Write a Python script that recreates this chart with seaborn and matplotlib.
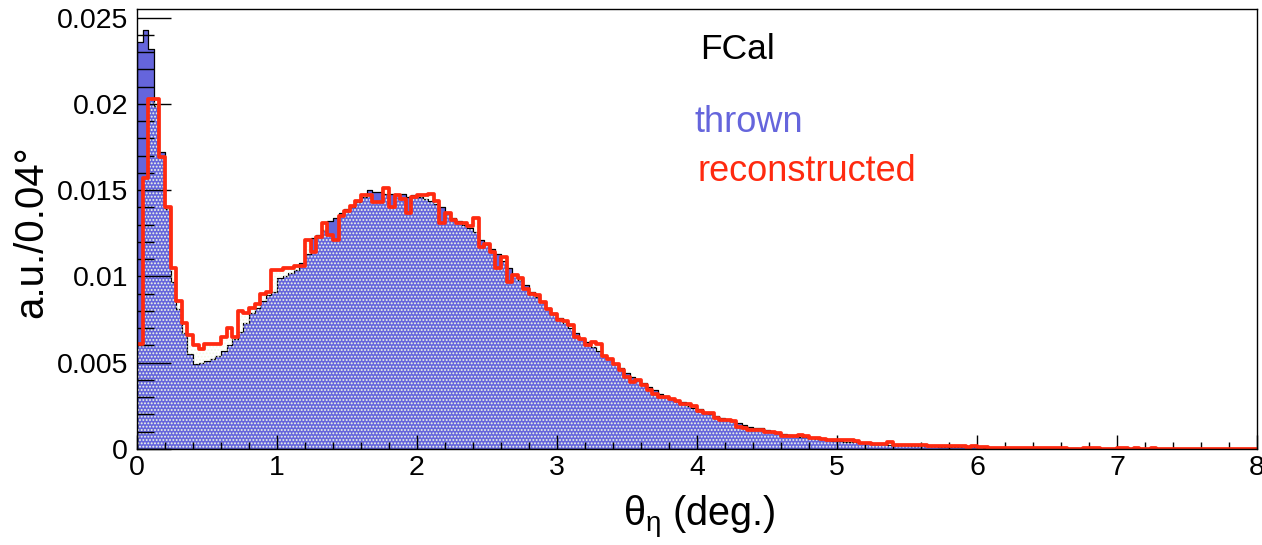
import numpy as np
import pandas as pd
import matplotlib
matplotlib.use("Agg")
import matplotlib.pyplot as plt
import seaborn as sns
from matplotlib.ticker import MultipleLocator, FixedLocator, FuncFormatter

# ---------------- data (a.u. per 0.04 deg bin, 0..8 deg) ----------------
bin_width = 0.04

thrown = [
    0.0236, 0.0243, 0.0232, 0.0199, 0.0172, 0.0139, 0.0097, 0.0081, 0.0067, 0.0055,
    0.0049, 0.0050, 0.0051, 0.0052, 0.0054, 0.0057, 0.0060, 0.0064, 0.0068, 0.0073,
    0.0079, 0.0082, 0.0086, 0.0089, 0.0091, 0.0099, 0.0100, 0.0102, 0.0104, 0.0108,
    0.0113, 0.0122, 0.0124, 0.0127, 0.0132, 0.0134, 0.0137, 0.0139, 0.0140, 0.0143,
    0.0146, 0.0150, 0.0149, 0.0149, 0.0148, 0.0148, 0.0147, 0.0148, 0.0146, 0.0147,
    0.0146, 0.0145, 0.0144, 0.0142, 0.0140, 0.0137, 0.0134, 0.0132, 0.0130, 0.0128,
    0.0126, 0.0121, 0.0119, 0.0116, 0.0113, 0.0109, 0.0105, 0.0101, 0.0098, 0.0095,
    0.0091, 0.0088, 0.0085, 0.0082, 0.0079, 0.0076, 0.0073, 0.0070, 0.0067, 0.0064,
    0.0062, 0.0059, 0.0057, 0.0054, 0.0052, 0.0049, 0.0047, 0.0044, 0.0042, 0.0040,
    0.0038, 0.0036, 0.0034, 0.0032, 0.0031, 0.0029, 0.0028, 0.0027, 0.0025, 0.0024,
    0.0023, 0.0021, 0.0020, 0.0019, 0.0018, 0.0017, 0.0016, 0.0015, 0.0014, 0.0013,
    0.0012, 0.0012, 0.0011, 0.0010, 0.00095, 0.00088, 0.00083, 0.00078, 0.00072, 0.00068,
    0.00064, 0.00060, 0.00056, 0.00052, 0.00049, 0.00046, 0.00043, 0.00040, 0.00038, 0.00035,
    0.00033, 0.00031, 0.00029, 0.00027, 0.00025, 0.00024, 0.00022, 0.00021, 0.00019, 0.00018,
    0.00017, 0.00016, 0.00015, 0.00014, 0.00013, 0.00012, 0.00011, 0.00011, 0.00010, 0.00009,
    0.00009, 0.00008, 0.00008, 0.00007, 0.00007, 0.00006, 0.00006, 0.00006, 0.00005, 0.00005,
    0.00005, 0.00004, 0.00004, 0.00004, 0.00004, 0.00003, 0.00003, 0.00003, 0.00002, 0.00003,
    0.00002, 0.00002, 0.00002, 0.00002, 0.00001, 0.00002, 0.00001, 0.00001, 0.00001, 0.00001,
    0.00001, 0.0, 0.00001, 0.0, 0.0, 0.00001, 0.0, 0.0, 0.0, 0.0,
    0.0, 0.0, 0.0, 0.0, 0.0, 0.0, 0.0, 0.0, 0.0, 0.0,
]

reconstructed = [
    0.0061, 0.0157, 0.0203, 0.0203, 0.0169, 0.0140, 0.0105, 0.0086, 0.0073, 0.0066,
    0.0060, 0.0058, 0.0061, 0.0061, 0.0061, 0.0065, 0.0070, 0.0065, 0.0080, 0.0079,
    0.0082, 0.0084, 0.0090, 0.0091, 0.0104, 0.0104, 0.0105, 0.0105, 0.0106, 0.0106,
    0.0121, 0.0114, 0.0123, 0.0131, 0.0124, 0.0121, 0.0135, 0.0138, 0.0141, 0.0144,
    0.0147, 0.0147, 0.0143, 0.0143, 0.0151, 0.0140, 0.0147, 0.0145, 0.0137, 0.0146,
    0.0147, 0.0147, 0.0148, 0.0144, 0.0131, 0.0137, 0.0133, 0.0131, 0.0131, 0.0129,
    0.0134, 0.0117, 0.0119, 0.0114, 0.0105, 0.0111, 0.0097, 0.0101, 0.0099, 0.0093,
    0.0090, 0.0089, 0.0085, 0.0081, 0.0078, 0.0075, 0.0074, 0.0072, 0.0065, 0.0064,
    0.0060, 0.0062, 0.0061, 0.0054, 0.0052, 0.0049, 0.0046, 0.0042, 0.0039, 0.0040,
    0.0037, 0.0034, 0.0032, 0.0030, 0.0030, 0.0029, 0.0028, 0.0026, 0.0026, 0.0025,
    0.0022, 0.0021, 0.0021, 0.0018, 0.0017, 0.0017, 0.0016, 0.0013, 0.0012, 0.0011,
    0.0011, 0.0011, 0.0010, 0.0010, 0.0009, 0.00075, 0.00078, 0.00076, 0.00080, 0.00078,
    0.00062, 0.00062, 0.00058, 0.00052, 0.00054, 0.00052, 0.00052, 0.00050, 0.00048, 0.00037,
    0.00036, 0.00029, 0.00030, 0.00028, 0.00041, 0.00023, 0.00024, 0.00022, 0.00023, 0.00021,
    0.00022, 0.00020, 0.00019, 0.00017, 0.00016, 0.00018, 0.00015, 0.00017, 0.00014, 0.00016,
    0.00013, 0.00012, 0.00008, 0.00006, 0.00007, 0.00005, 0.00006, 0.00004, 0.00005, 0.00006,
    0.00003, 0.00004, 0.00005, 0.00003, 0.00004, 0.00003, 0.0, 0.0, 0.0, 0.00003,
    0.00004, 0.00003, 0.0, 0.0, 0.0, 0.00004, 0.00003, 0.0, 0.00003, 0.0,
    0.00002, 0.00004, 0.0, 0.0, 0.0, 0.0, 0.0, 0.0, 0.0, 0.0,
    0.0, 0.0, 0.0, 0.0, 0.0, 0.0, 0.0, 0.0, 0.0, 0.0,
]

x_tick_values = [0, 1, 2, 3, 4, 5, 6, 7, 8]
y_tick_values = [0, 0.005, 0.01, 0.015, 0.02, 0.025]

title_text = "FCal"
thrown_label = "thrown"
reco_label = "reconstructed"
x_label = r"$\theta_{\eta}$ (deg.)"
y_label = "a.u./0.04°"

# ---------------- style ----------------
sns.set_theme(style="white")
plt.rcParams["font.family"] = ["Liberation Sans", "DejaVu Sans"]
plt.rcParams["mathtext.fontset"] = "custom"
plt.rcParams["mathtext.rm"] = "Liberation Sans"
plt.rcParams["mathtext.it"] = "Liberation Sans"
plt.rcParams["mathtext.bf"] = "Liberation Sans:bold"
plt.rcParams["hatch.linewidth"] = 0.9
plt.rcParams["text.color"] = "black"
plt.rcParams["axes.labelcolor"] = "black"
plt.rcParams["xtick.color"] = "black"
plt.rcParams["ytick.color"] = "black"

blue = "#6565dc"
red = "#ff2a10"
pale = "#f2fbe6"

n = len(thrown)
edges = [round(i * bin_width, 6) for i in range(n + 1)]
centers = [e + bin_width / 2 for e in edges[:-1]]
df = pd.DataFrame({"theta": centers, "thrown": thrown, "reco": reconstructed})

W, H = 1262, 545
fig = plt.figure(figsize=(W / 100, H / 100), dpi=100)
ax = fig.add_axes([137 / W, (H - 449) / H, 1120 / W, 440 / H])

# thrown: solid blue fill with black outline
sns.histplot(data=df, x="theta", weights="thrown", bins=edges, element="step",
             fill=True, color=blue, alpha=1.0, edgecolor="black", linewidth=0.9,
             ax=ax, zorder=1)
# reconstructed: dotted pattern fill
n_before = len(ax.collections)
sns.histplot(data=df, x="theta", weights="reco", bins=edges, element="step",
             fill=True, color=pale, alpha=1.0, edgecolor=pale, linewidth=0.0,
             ax=ax, zorder=1.2)
for coll in ax.collections[n_before:]:
    coll.set_facecolor("none")
    coll.set_edgecolor(pale)
    coll.set_linewidth(0.0)
    coll.set_hatch(".....")
# reconstructed: red outline
sns.histplot(data=df, x="theta", weights="reco", bins=edges, element="step",
             fill=False, color=red, linewidth=2.7, ax=ax, zorder=3)

ax.set_xlim(0, 8)
ax.set_ylim(0, 0.0255)

ax.xaxis.set_major_locator(FixedLocator(x_tick_values))
ax.xaxis.set_minor_locator(MultipleLocator(0.2))
ax.yaxis.set_major_locator(FixedLocator(y_tick_values))
ax.yaxis.set_minor_locator(MultipleLocator(0.001))
ax.xaxis.set_major_formatter(FuncFormatter(lambda v, p: f"{v:g}"))
ax.yaxis.set_major_formatter(FuncFormatter(lambda v, p: f"{v:g}"))

ax.set_axisbelow(False)
ax.tick_params(axis="both", which="both", direction="in", colors="black",
               left=True, bottom=True, top=False, right=False,
               width=1.0, labelsize=20.5)
ax.tick_params(axis="y", which="major", length=24.5, pad=6.5)
ax.tick_params(axis="y", which="minor", length=12)
ax.tick_params(axis="x", which="major", length=10, pad=4.5)
ax.tick_params(axis="x", which="minor", length=5)

for s in ax.spines.values():
    s.set_color("black")
    s.set_linewidth(1.0)
    s.set_visible(True)
    s.set_zorder(4)

ax.set_xlabel(x_label, fontsize=28.5, color="black")
ax.xaxis.label.set_ha("center")
ax.xaxis.label.set_va("center")
ax.xaxis.set_label_coords(0.502, -0.155)

ax.set_ylabel(y_label, fontsize=29, color="black")
ax.yaxis.label.set_ha("center")
ax.yaxis.label.set_va("center")
ax.yaxis.set_label_coords(-0.094, 0.494)

ax.text(0.5027, 0.907, title_text, transform=ax.transAxes, fontsize=25.5,
        color="black", ha="left", va="center")
ax.text(0.498, 0.741, thrown_label, transform=ax.transAxes, fontsize=26,
        color=blue, ha="left", va="center")
ax.text(0.500, 0.630, reco_label, transform=ax.transAxes, fontsize=26,
        color=red, ha="left", va="center")

ax.grid(False)
fig.patch.set_facecolor("white")
ax.set_facecolor("white")

fig.savefig("out.png", dpi=100, facecolor="white")
